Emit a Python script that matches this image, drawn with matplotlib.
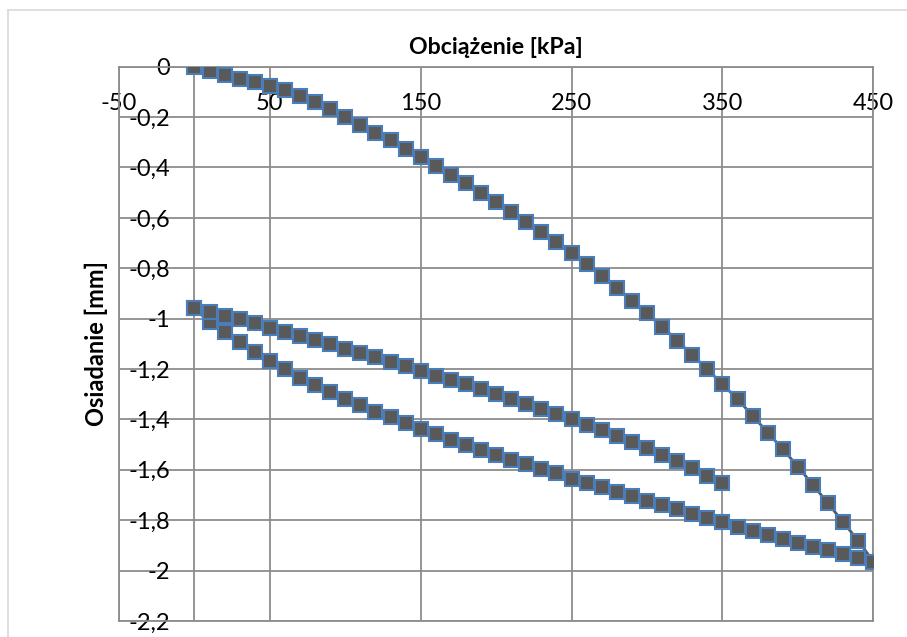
import matplotlib.pyplot as plt
from matplotlib.lines import Line2D
from matplotlib.ticker import FuncFormatter

# loading 0 -> 450 kPa
load_kpa = [0, 10, 20, 30, 40, 50, 60, 70, 80, 90, 100, 110, 120, 130, 140, 150,
            160, 170, 180, 190, 200, 210, 220, 230, 240, 250, 260, 270, 280, 290,
            300, 310, 320, 330, 340, 350, 360, 370, 380, 390, 400, 410, 420, 430,
            440, 450]
load_mm = [0, -0.016, -0.032, -0.048, -0.062, -0.077, -0.094, -0.118, -0.141,
           -0.169, -0.200, -0.231, -0.262, -0.292, -0.325, -0.360, -0.394, -0.428,
           -0.463, -0.500, -0.538, -0.577, -0.615, -0.656, -0.697, -0.741, -0.784,
           -0.831, -0.878, -0.929, -0.979, -1.032, -1.087, -1.144, -1.201, -1.260,
           -1.320, -1.385, -1.452, -1.518, -1.587, -1.660, -1.733, -1.808, -1.881,
           -1.964]

# unloading 450 -> 0 kPa
unload_kpa = [450, 440, 430, 420, 410, 400, 390, 380, 370, 360, 350, 340, 330,
              320, 310, 300, 290, 280, 270, 260, 250, 240, 230, 220, 210, 200, 190,
              180, 170, 160, 150, 140, 130, 120, 110, 100, 90, 80, 70, 60, 50, 40,
              30, 20, 10, 0]
unload_mm = [-1.964, -1.948, -1.934, -1.918, -1.905, -1.889, -1.873, -1.858,
             -1.841, -1.825, -1.808, -1.792, -1.774, -1.756, -1.738, -1.722, -1.705,
             -1.687, -1.669, -1.652, -1.636, -1.614, -1.595, -1.578, -1.560, -1.541,
             -1.521, -1.501, -1.480, -1.459, -1.438, -1.415, -1.391, -1.369, -1.344,
             -1.319, -1.291, -1.263, -1.234, -1.201, -1.168, -1.131, -1.094, -1.054,
             -1.014, -0.959]

# reloading 0 -> 350 kPa
reload_kpa = [0, 10, 20, 30, 40, 50, 60, 70, 80, 90, 100, 110, 120, 130, 140, 150,
              160, 170, 180, 190, 200, 210, 220, 230, 240, 250, 260, 270, 280, 290,
              300, 310, 320, 330, 340, 350]
reload_mm = [-0.959, -0.972, -0.989, -1.003, -1.018, -1.036, -1.053, -1.067,
             -1.085, -1.100, -1.119, -1.135, -1.153, -1.172, -1.188, -1.208, -1.226,
             -1.244, -1.259, -1.279, -1.299, -1.317, -1.337, -1.357, -1.377, -1.398,
             -1.421, -1.440, -1.464, -1.488, -1.514, -1.541, -1.566, -1.594, -1.623,
             -1.653]

x_ticks = [-50, 50, 150, 250, 350, 450]
y_ticks = [0, -0.2, -0.4, -0.6, -0.8, -1, -1.2, -1.4, -1.6, -1.8, -2, -2.2]

GRID = "#8c8c8c"

plt.rcParams["font.family"] = ["Lato", "DejaVu Sans"]

fig = plt.figure(figsize=(9.07, 6.37), dpi=100)
ax = fig.add_axes([119 / 907, 1 - 621 / 637, (873.3 - 119) / 907, (621 - 66.7) / 637])

# chart frame (light border, top and left only visible)
fig.add_artist(Line2D([8 / 907, 1], [1 - 10 / 637] * 2, color="#d9d9d9", lw=1.2))
fig.add_artist(Line2D([8 / 907] * 2, [0, 1 - 10 / 637], color="#d9d9d9", lw=1.2))

xs = load_kpa + unload_kpa + reload_kpa
ys = load_mm + unload_mm + reload_mm
ax.plot(xs, ys, color="#595959", lw=2, marker="s", ms=9.5, mfc="#595959",
        mec="#4a7ebb", mew=1.5, zorder=3)

ax.set_xlim(-50, 450)
ax.set_ylim(-2.2, 0)
ax.set_xticks(x_ticks)
ax.set_xticklabels([str(t) for t in x_ticks])
ax.set_yticks(y_ticks)
ax.yaxis.set_major_formatter(FuncFormatter(lambda v, _: f"{round(v, 1):g}".replace(".", ",")))

ax.grid(True, color=GRID, lw=1.3)
ax.axvline(0, color=GRID, lw=1.3, zorder=1)
ax.set_axisbelow(True)
for sp in ax.spines.values():
    sp.set_color(GRID)
    sp.set_linewidth(1.3)

ax.tick_params(axis="x", top=True, labeltop=True, bottom=False, labelbottom=False,
               length=0, pad=-34, labelsize=17)
ax.tick_params(axis="y", length=0, pad=-37, labelsize=17)

ax.set_title("Obciążenie [kPa]", fontsize=16.7, fontweight="bold", pad=9)
ax.set_ylabel("Osiadanie [mm]", fontsize=17, fontweight="bold")
ax.yaxis.set_label_coords(-11 / 754, 0.5)

fig.savefig("out.png", dpi=100)
